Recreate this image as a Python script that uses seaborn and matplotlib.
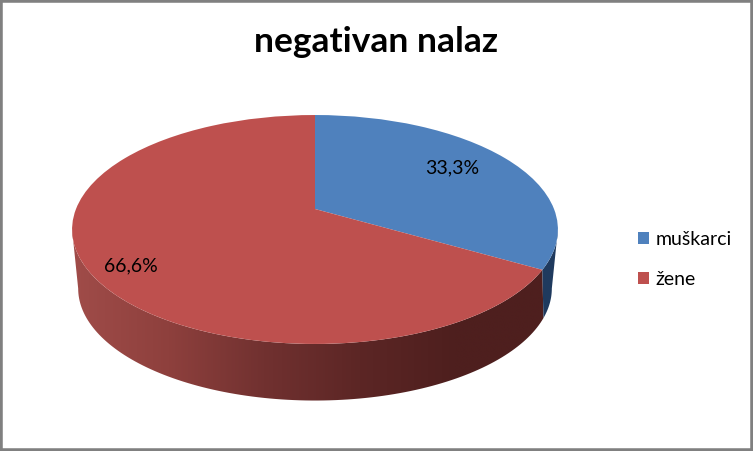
import numpy as np
import seaborn as sns
import matplotlib
matplotlib.use("Agg")
import matplotlib.pyplot as plt
import matplotlib.transforms as mtransforms
from matplotlib.colors import LinearSegmentedColormap
from matplotlib.patches import Patch, Polygon

title = "negativan nalaz"
categories = ["muškarci", "žene"]
values = [33.3, 66.6]
slice_colors = ["#4F81BD", "#BE504E"]
red_side = ["#A04C49", "#8E403D", "#713130", "#5C2625", "#4E1F1E", "#4E1F1E"]
blue_side = "#1F3A5E"


class Tilt(mtransforms.Transform):
    # unit disc -> tilted disc in pixels, lines stay lines
    input_dims = 2
    output_dims = 2

    def __init__(self, cx, cy, a, b, k=0.179):
        super().__init__()
        self.cx, self.cy, self.a, self.b, self.k = cx, cy, a, b, k

    def transform_non_affine(self, xy):
        xy = np.asarray(xy, dtype=float)
        w = 1 + self.k * xy[:, 1]
        return np.column_stack([self.cx + self.a * xy[:, 0] / w,
                                self.cy - self.b * xy[:, 1] / w])


def rim(tilt, t):
    t = np.radians(t)
    return tilt.transform_non_affine(np.column_stack([np.sin(t), np.cos(t)]))


sns.set_theme(style="white")
plt.rcParams['font.family'] = ['Lato', 'DejaVu Sans']

fig = plt.figure(figsize=(7.53, 4.51), dpi=100)
ax = fig.add_axes([0, 0, 1, 1])
palette = sns.color_palette(slice_colors)

wedges, _, autotexts = ax.pie(values, colors=palette, startangle=90, counterclock=False,
                              autopct=lambda p: ("%.1f%%" % (p * 99.9 / 100)).replace(".", ","),
                              wedgeprops={"linewidth": 0})
ax.set_aspect("auto")
ax.set_frame_on(True)
for s in ax.spines.values():
    s.set_color("#808080")
    s.set_linewidth(4)

top = Tilt(315, 209, 239, 110.8)
bottom = Tilt(315, 268.5, 233, 108.4)
for w in wedges:
    w.set_transform(top + ax.transData)
    w.set_zorder(3)

# side of the cake, from the slice angles
edge = 360 * values[0] / sum(values)
edge_low = edge - 5
t_right, t_left = 100.3, 259.7
ts = np.linspace(t_right, edge, 30)
ts_low = np.linspace(t_right, edge_low, 30)
blue_poly = np.vstack([rim(top, ts), rim(bottom, ts_low)[::-1]])
ax.add_patch(Polygon(blue_poly, closed=True, facecolor=blue_side, edgecolor="none", zorder=2.5))

ts = np.linspace(edge, t_left, 120)
ts_low = np.linspace(edge_low, t_left, 120)
red_poly = Polygon(np.vstack([rim(top, ts), rim(bottom, ts_low)[::-1]]), closed=True,
                   facecolor="none", edgecolor="none", transform=ax.transData)
ax.add_patch(red_poly)
cmap = LinearSegmentedColormap.from_list("side", red_side)
im = ax.imshow(np.linspace(0, 1, 256)[None, :], cmap=cmap, aspect="auto",
               extent=(72, 552, 410, 220), zorder=2, interpolation="bilinear")
im.set_clip_path(red_poly)

ax.set_xlim(0, 753)
ax.set_ylim(451, 0)
ax.set_xticks([])
ax.set_yticks([])

for txt, xy in zip(autotexts, [(452, 168), (130.5, 266)]):
    txt.set_transform(ax.transData)
    txt.set_position(xy)
    txt.set_fontsize(14)
    txt.set_color("black")
    txt.set_zorder(5)

ax.text(376, 42.5, title, fontsize=25.5, fontweight="bold", color="black", ha="center", va="center")

handles = [Patch(facecolor=c, edgecolor="none") for c in palette]
ax.legend(handles, categories, loc="upper left", bbox_to_anchor=(638 / 753, 1 - 231 / 451),
          frameon=False, fontsize=14, labelcolor="black", handlelength=0.56, handleheight=0.56,
          handletextpad=0.33, labelspacing=1.17, borderaxespad=0, borderpad=0)

fig.savefig("out.png", dpi=100)
